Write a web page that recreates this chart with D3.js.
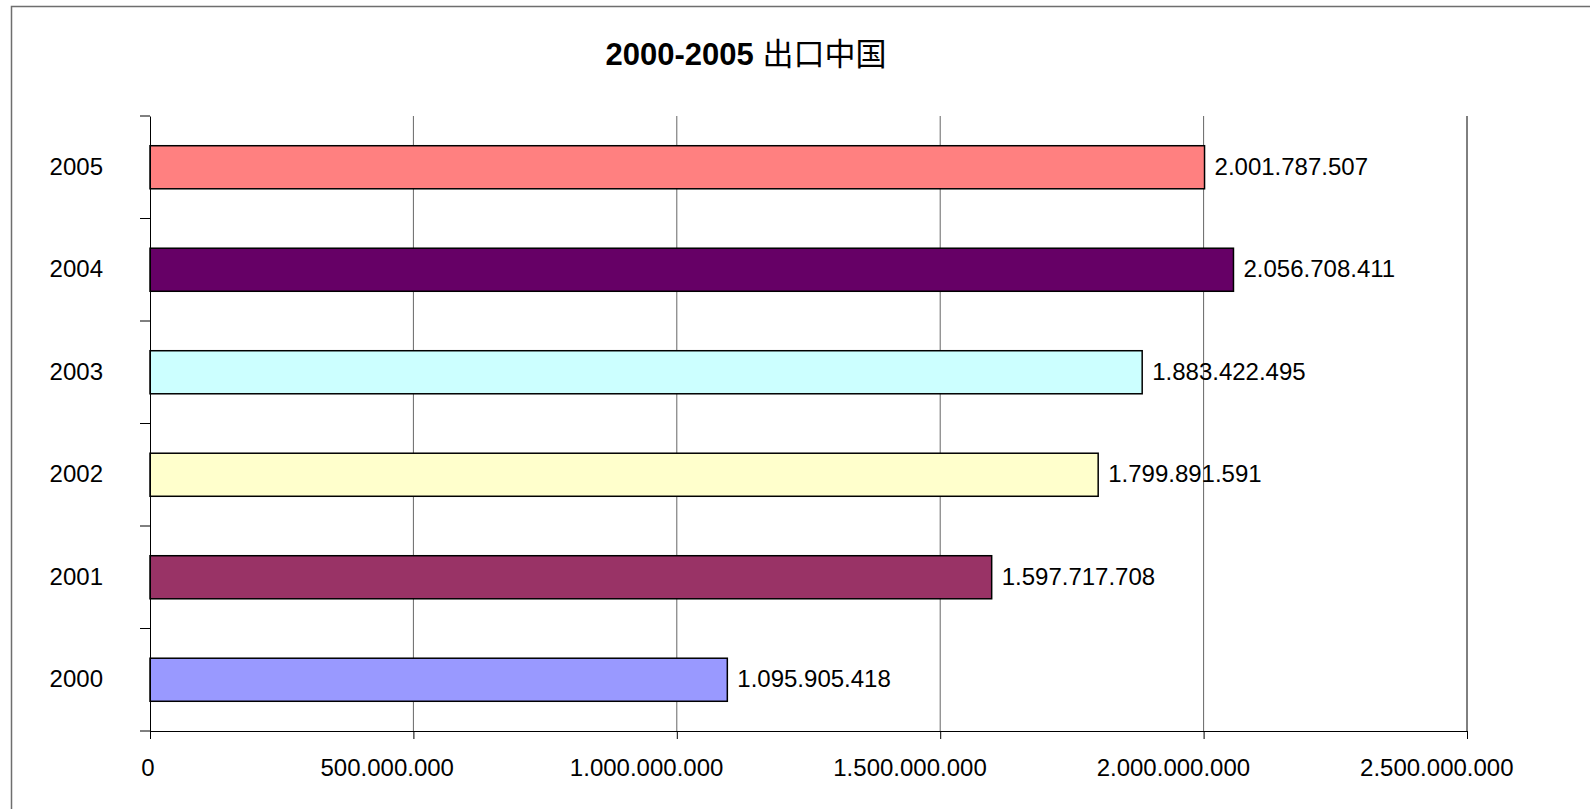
<!DOCTYPE html>
<html>
<head>
<meta charset="utf-8">
<script src="https://cdn.jsdelivr.net/npm/d3@7"></script>
<style>
  body { margin: 0; background: #fff; }
  svg { display: block; font-family: "Liberation Sans", Arial, sans-serif; }
</style>
</head>
<body>
<div id="chart"></div>
<script>
// data
const years = ["2005", "2004", "2003", "2002", "2001", "2000"];
const exports = [2001787507, 2056708411, 1883422495, 1799891591, 1597717708, 1095905418];
const barColors = ["#ff8080", "#660066", "#ccffff", "#ffffcc", "#993366", "#9999ff"];
const xTicks = [0, 500000000, 1000000000, 1500000000, 2000000000, 2500000000];
const titleNum = "2000-2005";
const titleCjk = "出口中国";

const width = 1590, height = 809;
const margin = { top: 116, right: 123, bottom: 78, left: 150 };

const locale = d3.formatLocale({ decimal: ",", thousands: ".", grouping: [3], currency: ["", ""] });
const fmt = locale.format(",d");

const svg = d3.select("#chart").append("svg")
    .attr("width", width)
    .attr("height", height);

// outer frame (right and bottom run off the page)
svg.append("rect")
    .attr("x", 11.5).attr("y", 6.5)
    .attr("width", width).attr("height", height)
    .attr("fill", "none")
    .attr("stroke", "#6e6e6e")
    .attr("stroke-width", 1.5);

const x = d3.scaleLinear()
    .domain([0, 2500000000])
    .range([margin.left, width - margin.right]);

const y = d3.scaleBand()
    .domain(years)
    .range([margin.top, height - margin.bottom])
    .paddingInner(0.58)
    .paddingOuter(0.29);

// vertical gridlines
svg.append("g")
    .selectAll("line")
    .data(xTicks.slice(1))
    .enter().append("line")
    .attr("x1", d => x(d)).attr("x2", d => x(d))
    .attr("y1", margin.top).attr("y2", height - margin.bottom)
    .attr("stroke", d => d === 2500000000 ? "#000" : "#666")
    .attr("stroke-width", 1);

// bars
svg.append("g")
    .selectAll("rect")
    .data(years)
    .enter().append("rect")
    .attr("x", x(0))
    .attr("y", d => y(d))
    .attr("width", (d, i) => x(exports[i]) - x(0))
    .attr("height", y.bandwidth())
    .attr("fill", (d, i) => barColors[i])
    .attr("stroke", "#000")
    .attr("stroke-width", 1.5);

// value labels
svg.append("g")
    .selectAll("text")
    .data(years)
    .enter().append("text")
    .attr("x", (d, i) => x(exports[i]) + 10)
    .attr("y", d => y(d) + y.bandwidth() / 2)
    .attr("dy", "0.32em")
    .style("font-size", "24px")
    .style("fill", "#000")
    .text((d, i) => fmt(exports[i]));

// x axis
const xAxis = svg.append("g")
    .attr("transform", `translate(0,${height - margin.bottom})`)
    .call(d3.axisBottom(x).tickValues(xTicks).tickFormat(fmt).tickSize(8).tickPadding(20));
xAxis.select(".domain").attr("stroke", "#000");
xAxis.selectAll(".tick line").attr("stroke", "#000");
xAxis.selectAll("text")
    .style("font-size", "24px")
    .style("font-family", "\"Liberation Sans\", Arial, sans-serif")
    .attr("fill", "#000");
// the original sits its tick labels a little left of each tick
xAxis.selectAll("text")
    .attr("dx", function() { return -0.2 * this.getComputedTextLength(); });

// y axis: labels centred on bands, ticks on band boundaries
const yAxis = svg.append("g")
    .attr("transform", `translate(${margin.left},0)`)
    .call(d3.axisLeft(y).tickSize(0).tickPadding(47));
yAxis.select(".domain").attr("stroke", "#000");
yAxis.selectAll("text")
    .style("font-size", "24px")
    .style("font-family", "\"Liberation Sans\", Arial, sans-serif")
    .attr("fill", "#000");

const step = y.step();
yAxis.append("g")
    .selectAll("line")
    .data(d3.range(years.length + 1))
    .enter().append("line")
    .attr("x1", -10).attr("x2", 0)
    .attr("y1", i => margin.top + i * step)
    .attr("y2", i => margin.top + i * step)
    .attr("stroke", "#000");

// title
const title = svg.append("text")
    .attr("x", 746)
    .attr("y", 65)
    .attr("text-anchor", "middle")
    .style("font-size", "31px")
    .style("fill", "#000");
title.append("tspan")
    .style("font-weight", "bold")
    .text(titleNum + " ");
title.append("tspan")
    .style("font-family", "\"Noto Sans CJK SC\", sans-serif")
    .style("font-weight", "normal")
    .text(titleCjk);
</script>
</body>
</html>
